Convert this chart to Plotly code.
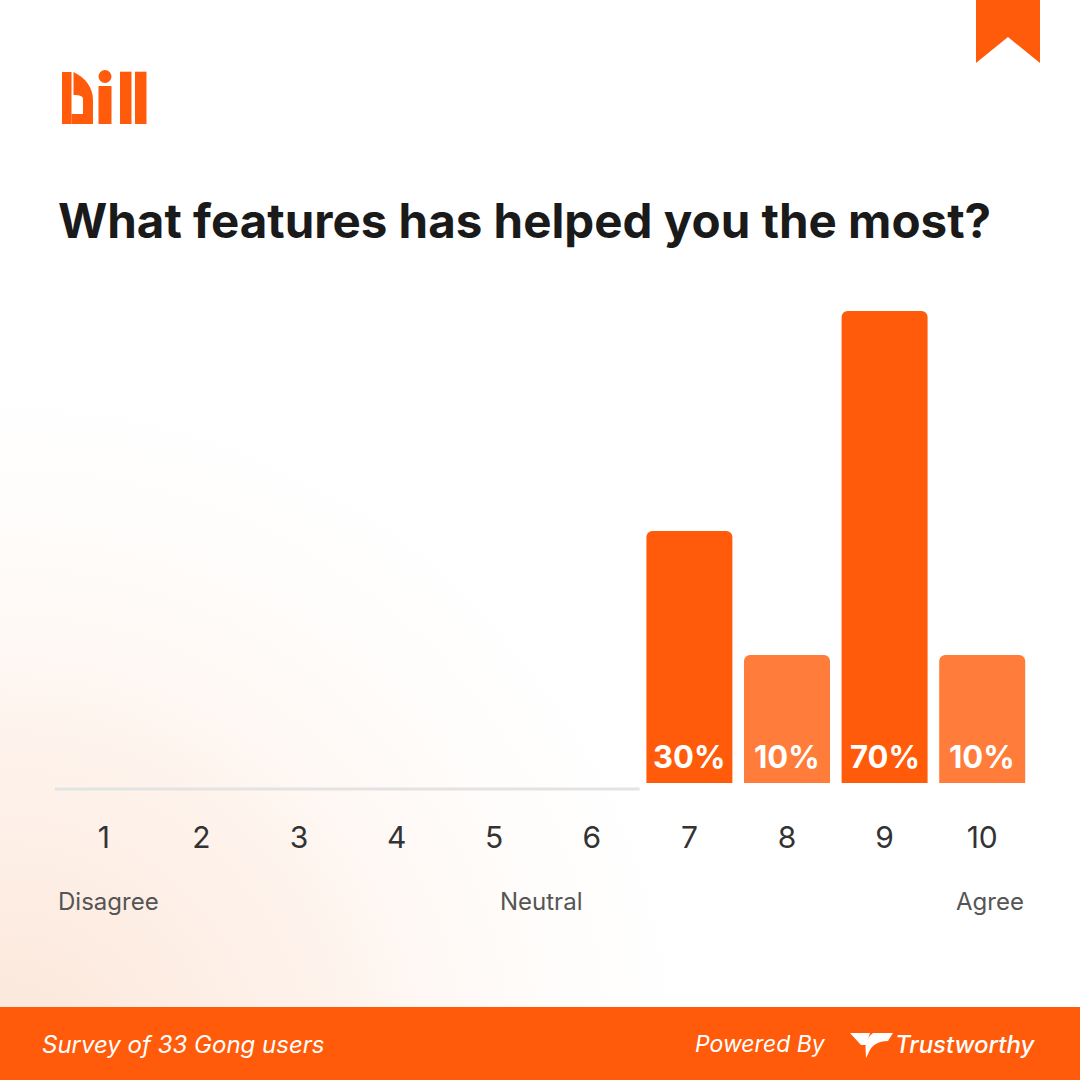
import base64
import plotly.graph_objects as go

# ---------------- data ----------------
categories = [1, 2, 3, 4, 5, 6, 7, 8, 9, 10]
tick_labels = ["1", "2", "3", "4", "5", "6", "7", "8", "9", "10"]
# bar heights (relative, tallest = 100)
bar_heights = [0, 0, 0, 0, 0, 0, 53.4, 27.1, 100, 27.1]
pct_labels = ["", "", "", "", "", "", "30%", "10%", "70%", "10%"]
scale_labels = ["Disagree", "Neutral", "Agree"]
title_text = "What features has helped you the most?"
footer_left = "Survey of 33 Gong users"
footer_powered = "Powered By"
footer_brand = "Trustworthy"

# ---------------- styles ----------------
W = H = 1080
DARK = "#FF5B0A"
LIGHT = "#FF7C3B"
bar_colors = [DARK, LIGHT, DARK, LIGHT, DARK, LIGHT, DARK, LIGHT, DARK, LIGHT]
FONT = "Inter"


def px(x):
    return x / W


def py(y):
    return 1 - y / H


def path(points, close=True):
    s = "M " + " L ".join(f"{px(x):.5f},{py(y):.5f}" for x, y in points)
    return s + (" Z" if close else "")


fig = go.Figure()
fig.add_trace(go.Bar(
    x=categories,
    y=bar_heights,
    marker=dict(color=bar_colors, line=dict(width=0)),
    hoverinfo="skip",
    showlegend=False,
))

annotations = []
# percentage labels inside bars near their base
for c, h, lab in zip(categories, bar_heights, pct_labels):
    if lab:
        annotations.append(dict(
            x=c, y=0, xref="x", yref="y", text=f"<b>{lab}</b>", showarrow=False,
            yanchor="bottom", xanchor="center", yshift=6,
            font=dict(family=FONT, size=31, color="white", weight=700),
        ))

# title
annotations.append(dict(
    x=px(56), y=py(220), xref="paper", yref="paper", text=f"<b>{title_text}</b>",
    showarrow=False, xanchor="left", yanchor="middle",
    font=dict(family=FONT, size=47.5, color="#1A1A1A", weight=700),
))
# scale labels
for txt, x, anc in zip(scale_labels, [56, 541, 1026], ["left", "center", "right"]):
    annotations.append(dict(
        x=px(x), y=py(901), xref="paper", yref="paper", text=txt, showarrow=False,
        xanchor=anc, yanchor="middle",
        font=dict(family=FONT, size=24, color="#555555"),
    ))
# footer texts
annotations.append(dict(
    x=px(40), y=py(1044), xref="paper", yref="paper", text=footer_left, showarrow=False,
    xanchor="left", yanchor="middle",
    font=dict(family=FONT, size=24, color="white", style="italic"),
))
annotations.append(dict(
    x=px(828), y=py(1044), xref="paper", yref="paper", text=footer_powered, showarrow=False,
    xanchor="right", yanchor="middle",
    font=dict(family=FONT, size=23, color="white", style="italic"),
))
annotations.append(dict(
    x=px(1038), y=py(1044), xref="paper", yref="paper", text=footer_brand, showarrow=False,
    xanchor="right", yanchor="middle",
    font=dict(family=FONT, size=24, color="white", style="italic", weight=500),
))

shapes = []
# footer band
shapes.append(dict(type="rect", xref="paper", yref="paper", x0=0, x1=1, y0=0, y1=py(1007),
                   fillcolor=DARK, line=dict(width=0), layer="above"))
# ribbon top-right
shapes.append(dict(type="path", xref="paper", yref="paper",
                   path=path([(976, 0), (1040, 0), (1040, 63), (1008, 37), (976, 63)]),
                   fillcolor=DARK, line=dict(width=0)))
# baseline under empty categories
shapes.append(dict(type="line", xref="x", yref="paper", x0=0.46, x1=6.49,
                   y0=py(789), y1=py(789), line=dict(color="#E3E3E3", width=3)))

# "bill" logo
logo = dict(xref="paper", yref="paper", fillcolor=DARK, line=dict(width=0))
shapes.append(dict(type="rect", x0=px(62), x1=px(71.5), y0=py(124), y1=py(72), **logo))
shapes.append(dict(type="path",
                   path=(f"M {px(73.5)},{py(72)} C {px(86)},{py(78)} {px(93)},{py(88)} {px(93)},{py(100)} "
                         f"L {px(93)},{py(124)} L {px(71.5)},{py(124)} L {px(71.5)},{py(114)} "
                         f"L {px(83)},{py(114)} L {px(83)},{py(99)} C {px(83)},{py(96)} {px(80)},{py(95)} {px(73.5)},{py(95)} Z"),
                   **logo))
shapes.append(dict(type="circle", x0=px(98.5), x1=px(111.5), y0=py(83), y1=py(70), **logo))
shapes.append(dict(type="rect", x0=px(98.5), x1=px(111.5), y0=py(124), y1=py(86), **logo))
shapes.append(dict(type="rect", x0=px(120), x1=px(131.5), y0=py(124), y1=py(71.7), **logo))
shapes.append(dict(type="rect", x0=px(135), x1=px(146.5), y0=py(124), y1=py(71.7), **logo))

# Trustworthy icon
icon = dict(xref="paper", yref="paper", fillcolor="white", line=dict(width=0))
shapes.append(dict(type="path", path=path([(850, 1033), (870, 1033), (866, 1045), (861, 1045)]), **icon))
shapes.append(dict(type="path",
                   path=(f"M {px(873)},{py(1033)} L {px(893)},{py(1033)} L {px(888)},{py(1041)} "
                         f"C {px(878)},{py(1041)} {px(872)},{py(1045)} {px(869)},{py(1052)} "
                         f"L {px(866)},{py(1058)} L {px(865.5)},{py(1047)} "
                         f"C {px(866)},{py(1040)} {px(869)},{py(1036)} {px(873)},{py(1033)} Z"),
                   **icon))

# soft peach gradient in the bottom-left corner
svg = (
    '<svg xmlns="http://www.w3.org/2000/svg" width="1080" height="1080" viewBox="0 0 1080 1080">'
    '<defs><radialGradient id="g" cx="0" cy="1080" r="760" gradientUnits="userSpaceOnUse">'
    '<stop offset="0" stop-color="#FCE6D9"/>'
    '<stop offset="0.45" stop-color="#FEF3EC"/>'
    '<stop offset="1" stop-color="#FFFFFF" stop-opacity="0"/>'
    '</radialGradient></defs>'
    '<rect width="1080" height="1080" fill="#FFFFFF"/>'
    '<rect width="1080" height="1080" fill="url(#g)"/></svg>'
)
bg_src = "data:image/svg+xml;base64," + base64.b64encode(svg.encode()).decode()

fig.update_layout(
    width=W, height=H,
    margin=dict(l=0, r=0, t=0, b=0),
    paper_bgcolor="white",
    plot_bgcolor="rgba(0,0,0,0)",
    bargap=0.119,
    barcornerradius=6,
    showlegend=False,
    annotations=annotations,
    shapes=shapes,
    images=[dict(source=bg_src, xref="paper", yref="paper", x=0, y=1, sizex=1, sizey=1,
                 sizing="stretch", layer="below", xanchor="left", yanchor="top")],
    xaxis=dict(
        domain=[px(55), px(1031)], range=[0.5, 10.5],
        tickmode="array", tickvals=categories, ticktext=tick_labels,
        showgrid=False, zeroline=False, showline=False, ticks="",
        tickfont=dict(family=FONT, size=30, color="#333333"),
        ticklabelstandoff=34, fixedrange=True,
    ),
    yaxis=dict(
        domain=[py(783), py(311)], range=[0, 100],
        showgrid=False, zeroline=False, showline=False, showticklabels=False, ticks="",
        fixedrange=True,
    ),
)

fig.write_html(
    "out.html",
    config={"displayModeBar": False},
    post_script="document.body.style.margin='0';document.body.style.overflow='hidden';",
)
